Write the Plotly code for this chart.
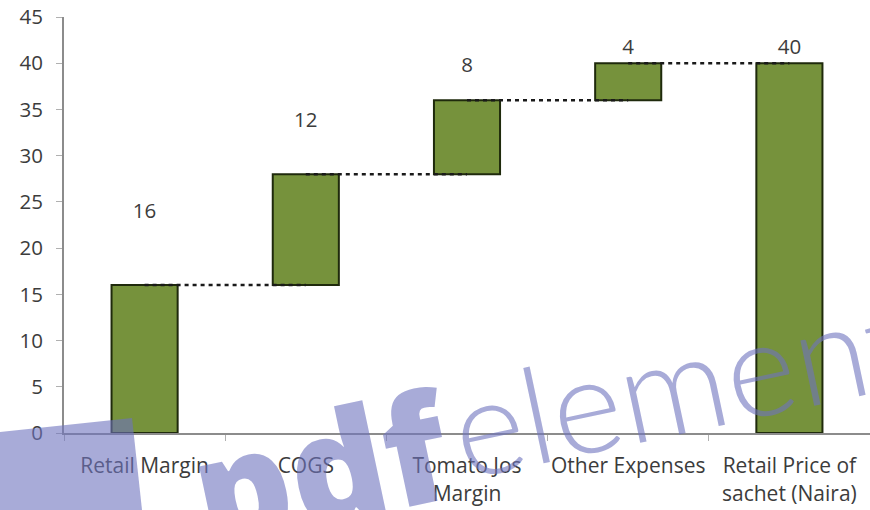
import plotly.graph_objects as go

categories = ["Retail Margin", "COGS", "Tomato Jos<br>Margin", "Other Expenses", "Retail Price of<br>sachet (Naira)"]
steps = [16, 12, 8, 4]
total = 40
label_heights = [23.8, 33.7, 39.6, 41.5, 41.5]

bases = []
run = 0
for s in steps:
    bases.append(run)
    run += s
bases.append(0)
heights = steps + [total]
tops = [b + h for b, h in zip(bases, heights)]

FILL = "#76923c"
EDGE = "#1f2a0c"
TXT = "#3c3c3c"
FONT = "Open Sans"

fig = go.Figure()

fig.add_trace(go.Bar(
    x=categories, y=heights, base=bases, width=0.41,
    marker=dict(color=FILL, line=dict(color=EDGE, width=2)),
    hoverinfo="skip",
))

cx, cy = [], []
for i in range(len(categories) - 1):
    cx += [categories[i], categories[i + 1], None]
    cy += [tops[i], tops[i], None]
fig.add_trace(go.Scatter(
    x=cx, y=cy, mode="lines",
    line=dict(color="#1a1a1a", width=2.5, dash="4px,4px"),
    hoverinfo="skip",
))

fig.add_trace(go.Scatter(
    x=categories, y=label_heights, mode="text",
    text=[str(v) for v in heights],
    textfont=dict(family=FONT, size=20.5, color=TXT),
    hoverinfo="skip",
))

fig.update_layout(
    width=870, height=510,
    margin=dict(l=64, r=0, t=17, b=77, autoexpand=False),
    paper_bgcolor="white", plot_bgcolor="white",
    showlegend=False,
    font=dict(family=FONT, size=20, color=TXT),
    xaxis=dict(
        type="category", range=[-0.5, 4.5],
        showline=True, linecolor="#8c8c8c", linewidth=2,
        ticks="outside", tickson="boundaries", ticklen=6, tickcolor="#b0b0b0",
        showgrid=False, zeroline=False,
        tickangle=0, automargin=False,
        tickfont=dict(family=FONT, size=21, color=TXT),
        ticklabelstandoff=13,
    ),
    yaxis=dict(
        range=[0, 45], dtick=5, tick0=0,
        showline=True, linecolor="#8c8c8c", linewidth=2,
        ticks="outside", ticklen=6, tickcolor="#b0b0b0",
        showgrid=False, zeroline=False, automargin=False,
        tickfont=dict(family=FONT, size=20.5, color=TXT),
        ticklabelstandoff=9,
    ),
)

# watermark overlay
wm = "rgba(110,115,190,0.6)"
fig.add_shape(type="path", xref="paper", yref="paper",
              path="M -0.0794 0.0024 L 0.0844 0.036 L 0.0968 -0.185 L -0.0794 -0.185 Z",
              fillcolor=wm, line=dict(width=0), layer="above")
fig.add_annotation(text="pdf", xref="paper", yref="paper", x=0.32, y=-0.08,
                   xanchor="center", yanchor="middle",
                   showarrow=False, textangle=-12,
                   font=dict(family="Open Sans", size=150, color=wm, weight=800))
fig.add_annotation(text="element", xref="paper", yref="paper", x=0.765, y=0.125,
                   xanchor="center", yanchor="middle",
                   showarrow=False, textangle=-12,
                   font=dict(family="Lato", size=134, color=wm, weight=300))

fig.write_html("out.html")
